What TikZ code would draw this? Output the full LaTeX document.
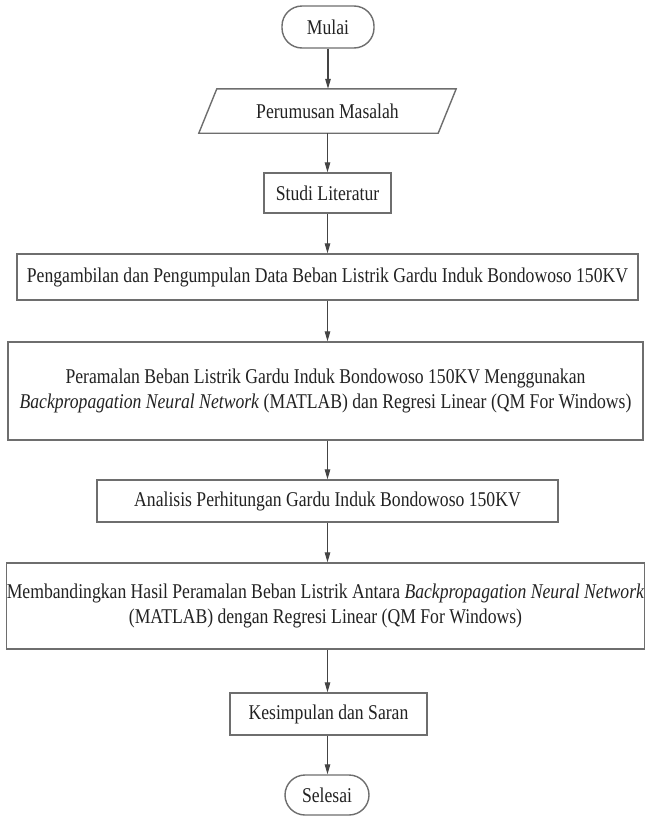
\documentclass[tikz,border=0pt]{standalone}
\usepackage{fontspec}
\setmainfont[FakeStretch=0.84]{Liberation Serif}
\usetikzlibrary{arrows.meta}
\definecolor{boxgray}{HTML}{6E6E6E}
\definecolor{linec}{HTML}{444444}
\definecolor{textc}{HTML}{222222}
\begin{document}
\begin{tikzpicture}[x=1pt,y=-1pt,
  box/.style={draw=boxgray, line width=1.4pt, fill=white, inner sep=0pt,
    font=\fontsize{21}{24.5}\selectfont, text=textc, align=center},
  term/.style={box, rounded corners=20pt},
  plain/.style={inner sep=0pt, font=\fontsize{21}{24.5}\selectfont, text=textc, align=center},
  arr/.style={draw=linec, line width=1.1pt, -{Triangle[length=10pt,width=5.5pt]}}]
\useasboundingbox[fill=white] (0,0) rectangle (645,817);

\node[term, minimum width=92pt, minimum height=42pt] (mulai) at (328,27) {Mulai};

\node[plain, minimum width=239pt, minimum height=44pt] (perum) at (327.5,111) {Perumusan Masalah};
\draw[draw=boxgray, line width=1.4pt]
  ([xshift=9pt]perum.north west) -- ([xshift=9pt]perum.north east)
  -- ([xshift=-9pt]perum.south east) -- ([xshift=-9pt]perum.south west) -- cycle;

\node[box, minimum width=127pt, minimum height=40pt] (studi) at (327.5,193) {Studi Literatur};

\node[box, minimum width=621pt, minimum height=46pt] (ambil) at (327.5,277)
  {Pengambilan dan Pengumpulan Data Beban Listrik Gardu Induk Bondowoso 150KV};

\node[box, minimum width=635pt, minimum height=98pt] (ramal) at (325.5,391)
  {Peramalan Beban Listrik Gardu Induk Bondowoso 150KV Menggunakan\\
   \textit{Backpropagation Neural Network} (MATLAB) dan Regresi Linear (QM For Windows)};

\node[box, minimum width=461pt, minimum height=42pt] (analisis) at (327.5,501)
  {Analisis Perhitungan Gardu Induk Bondowoso 150KV};

\node[box, minimum width=635pt, minimum height=86pt] (banding) at (325.5,606)
  {Membandingkan Hasil Peramalan Beban Listrik Antara \textit{Backpropagation Neural Network}\\
   (MATLAB) dengan Regresi Linear (QM For Windows)};

\node[box, minimum width=197pt, minimum height=42pt] (simpul) at (328.5,714) {Kesimpulan dan Saran};

\node[term, minimum width=84pt, minimum height=40pt] (selesai) at (327,795) {Selesai};

\draw[arr] (mulai.south) -- (mulai.south |- perum.north);
\draw[arr] (perum.south) -- (perum.south |- studi.north);
\draw[arr] (studi.south) -- (studi.south |- ambil.north);
\draw[arr] (ambil.south) -- (ambil.south |- ramal.north);
\draw[arr] (ambil.south |- ramal.south) -- (ambil.south |- analisis.north);
\draw[arr] (analisis.south) -- (analisis.south |- banding.north);
\draw[arr] (analisis.south |- banding.south) -- (analisis.south |- simpul.north);
\draw[arr] (simpul.south -| analisis.south) -- (analisis.south |- selesai.north);
\end{tikzpicture}
\end{document}
